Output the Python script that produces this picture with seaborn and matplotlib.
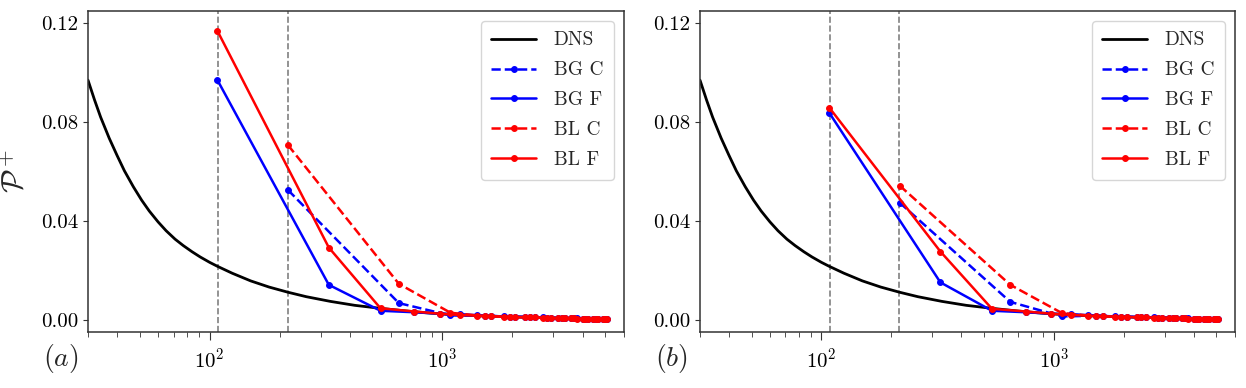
import numpy as np
import pandas as pd
import matplotlib
matplotlib.use("Agg")
import matplotlib.pyplot as plt
import seaborn as sns
from matplotlib.ticker import FormatStrFormatter, FixedLocator

# DNS production profile
dns_x = [30, 32, 34, 37, 40, 43, 47, 51, 55, 60, 65, 71, 77, 84, 91, 100, 108,
         125, 150, 180, 217, 260, 330, 420, 540, 700, 850, 1000, 1400, 2000,
         2800, 3600, 4400, 5200]
dns_y = [0.0970, 0.0890, 0.0820, 0.0735, 0.0665, 0.0603, 0.0538, 0.0484, 0.0440,
         0.0396, 0.0360, 0.0326, 0.0300, 0.0275, 0.0254, 0.0232, 0.0216,
         0.0188, 0.0157, 0.0132, 0.0111, 0.0093, 0.0074, 0.0058, 0.0046,
         0.0035, 0.0028, 0.0023, 0.0016, 0.0011, 0.0008, 0.0005, 0.0003, 0.0001]

# wall-modelled LES, fine (F) and coarse (C) grids: cell-centre locations
x_fine = [108, 325, 542, 758, 975, 1192, 1408, 1625, 1842, 2058, 2275, 2492,
          2708, 2925, 3142, 3358, 3575, 3792, 4008, 4225, 4442, 4658, 4875, 5092]
x_coarse = [217, 650, 1083, 1517, 1950, 2383, 2817, 3250, 3683, 4117, 4550, 4983]

tail_fine_bg = [0.0030, 0.0024, 0.0022, 0.0018, 0.0015, 0.0013, 0.0012, 0.0011,
                0.0010, 0.0009, 0.0008, 0.0007, 0.0007, 0.0006, 0.0005, 0.0004,
                0.0004, 0.0003, 0.0003, 0.0002, 0.0002]
tail_fine_bl = [0.0033, 0.0024, 0.0019, 0.0016, 0.0014, 0.0012, 0.0011, 0.0010,
                0.0009, 0.0008, 0.0007, 0.0007, 0.0006, 0.0005, 0.0004, 0.0004,
                0.0003, 0.0003, 0.0002, 0.0001, 0.0001]
tail_coarse_bg = [0.0016, 0.0012, 0.0010, 0.0008, 0.0007, 0.0005, 0.0004, 0.0003, 0.0002]
tail_coarse_bl = [0.0014, 0.0011, 0.0009, 0.0008, 0.0006, 0.0005, 0.0004, 0.0003, 0.0001]

# panel (a)
a_bg_f = [0.0970, 0.0141, 0.0036] + tail_fine_bg
a_bl_f = [0.1169, 0.0292, 0.0046] + tail_fine_bl
a_bg_c = [0.0525, 0.0067, 0.0017] + tail_coarse_bg
a_bl_c = [0.0707, 0.0145, 0.0028] + tail_coarse_bl

# panel (b)
b_bg_f = [0.0838, 0.0151, 0.0036] + tail_fine_bg
b_bl_f = [0.0859, 0.0276, 0.0044] + tail_fine_bl
b_bg_c = [0.0474, 0.0072, 0.0013] + tail_coarse_bg
b_bl_c = [0.0543, 0.0141, 0.0027] + tail_coarse_bl

grid_lines = [108.3, 216.7]
panel_labels = ["$(a)$", "$(b)$"]

sns.set_style("ticks")
plt.rcParams.update({
    "font.family": "serif",
    "font.serif": ["cmr10", "DejaVu Serif"],
    "mathtext.fontset": "cm",
    "axes.formatter.use_mathtext": True,
    "axes.unicode_minus": False,
    "axes.edgecolor": "#333333",
    "axes.linewidth": 1.1,
    "xtick.color": "#333333",
    "ytick.color": "#333333",
    "xtick.labelcolor": "black",
    "ytick.labelcolor": "black",
})

fig = plt.figure(figsize=(12.46, 3.88), dpi=100)
W, H = 1246, 388
ax_a = fig.add_axes([88 / W, 56 / H, 535.5 / W, 321 / H])
ax_b = fig.add_axes([700 / W, 56 / H, 534.5 / W, 321 / H])

panels = [
    (ax_a, a_bg_c, a_bg_f, a_bl_c, a_bl_f),
    (ax_b, b_bg_c, b_bg_f, b_bl_c, b_bl_f),
]

for i, (ax, bg_c, bg_f, bl_c, bl_f) in enumerate(panels):
    for xv in grid_lines:
        ax.axvline(xv, color="gray", linestyle="--", linewidth=1.2, zorder=1)

    sns.lineplot(x=dns_x, y=dns_y, ax=ax, color="black", linewidth=2.0,
                 label="DNS", sort=False)
    series = [
        (x_coarse, bg_c, "blue", "--", "BG C"),
        (x_fine, bg_f, "blue", "-", "BG F"),
        (x_coarse, bl_c, "red", "--", "BL C"),
        (x_fine, bl_f, "red", "-", "BL F"),
    ]
    for xs, ys, col, ls, lab in series:
        sns.lineplot(x=xs, y=ys, ax=ax, color=col, linestyle=ls, linewidth=1.8,
                     marker="o", markersize=4.2, markeredgecolor=col,
                     markerfacecolor=col, label=lab, sort=False)

    ax.set_xscale("log")
    ax.set_xlim(30, 6000)
    ax.set_ylim(-0.005, 0.125)
    ax.yaxis.set_major_locator(FixedLocator([0.0, 0.04, 0.08, 0.12]))
    ax.yaxis.set_major_formatter(FormatStrFormatter("%.2f"))
    ax.tick_params(axis="both", labelsize=15)
    ax.tick_params(axis="x", which="major", length=6, pad=5)
    ax.tick_params(axis="x", which="minor", length=3.5)
    ax.set_xlabel("")

    ax.legend(loc="upper right", fontsize=14, handlelength=2.3,
              labelspacing=0.62, handletextpad=0.9, borderpad=0.55,
              frameon=True, fancybox=True, edgecolor="#cccccc")

    ax.text(-0.084, -0.081, panel_labels[i], transform=ax.transAxes,
            fontsize=20, ha="left", va="center")

ax_a.set_ylabel(r"$\mathcal{P}^+$", fontsize=22, labelpad=8)
ax_b.set_ylabel("")

fig.savefig("out.png", dpi=100)
